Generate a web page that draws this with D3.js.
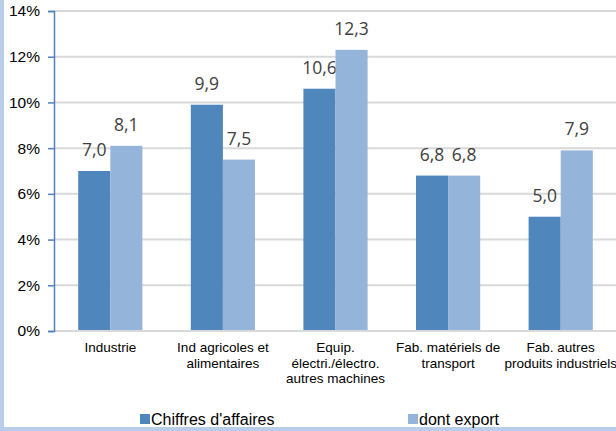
<!DOCTYPE html>
<meta charset="utf-8">
<style>
body { margin: 0; background: #fff; }
svg { display: block; font-family: "Liberation Sans", Arial, sans-serif; }
</style>
<body>
<script src="https://cdn.jsdelivr.net/npm/d3@7"></script>
<script>

// data
var categories = [
  ["Industrie"],
  ["Ind agricoles et", "alimentaires"],
  ["Equip.", "électri./électro.", "autres machines"],
  ["Fab. matériels de", "transport"],
  ["Fab. autres", "produits industriels"]
];
var chiffres = [7.0, 9.9, 10.6, 6.8, 5.0];
var exportVals = [8.1, 7.5, 12.3, 6.8, 7.9];
var seriesNames = ["Chiffres d'affaires", "dont export"];
var yTicks = [0, 2, 4, 6, 8, 10, 12, 14];

var W = 616, H = 431;
var colors = ["#4f86bb", "#95b4da"];

var svg = d3.select("body").append("svg")
    .attr("width", W)
    .attr("height", H);

// frame border (left + bottom)
svg.append("rect").attr("x", 0).attr("y", 0).attr("width", 4).attr("height", H).attr("fill", "#b9cce9");
svg.append("rect").attr("x", 0).attr("y", 427).attr("width", W).attr("height", 4).attr("fill", "#b9cce9");

var x0 = d3.scaleBand().domain(d3.range(categories.length)).range([54, 617]).paddingInner(0.43).paddingOuter(0.215);
var y = d3.scaleLinear().domain([0, 14]).range([331, 11]);

// gridlines
svg.append("g").selectAll("line")
  .data(yTicks.slice(1))
  .enter().append("line")
    .attr("x1", 54).attr("x2", W)
    .attr("y1", function(d) { return y(d); })
    .attr("y2", function(d) { return y(d); })
    .attr("stroke", "#d9d9d9")
    .attr("stroke-width", 2);

// bars
var bw = x0.bandwidth() / 2;
var series = [chiffres, exportVals];
series.forEach(function(vals, s) {
  svg.append("g").selectAll("rect")
    .data(vals)
    .enter().append("rect")
      .attr("x", function(d, i) { return x0(i) + s * bw; })
      .attr("width", bw)
      .attr("y", function(d) { return y(d); })
      .attr("height", function(d) { return y(0) - y(d); })
      .attr("fill", colors[s]);

  svg.append("g").selectAll("text")
    .data(vals)
    .enter().append("text")
      .attr("x", function(d, i) { return x0(i) + s * bw + bw / 2; })
      .attr("y", function(d) { return y(d) - 15; })
      .attr("text-anchor", "middle")
      .style("font-family", "'Open Sans', sans-serif")
      .style("font-size", "17.5px")
      .attr("fill", "#404040")
      .text(function(d) { return d.toFixed(1).replace(".", ","); });
});

// baseline
svg.append("line")
  .attr("x1", 54).attr("x2", W)
  .attr("y1", y(0)).attr("y2", y(0))
  .attr("stroke", "#d9d9d9").attr("stroke-width", 2);

// y axis
var yAxis = d3.axisLeft(y).tickValues(yTicks).tickSize(6).tickFormat(function(d) { return d + "%"; });
var gy = svg.append("g").attr("transform", "translate(54,0)").call(yAxis);
gy.select(".domain").attr("stroke", "#4f81bd").attr("stroke-width", 1.5);
gy.selectAll(".tick line").attr("stroke", "#4f81bd").attr("stroke-width", 1.5);
gy.selectAll(".tick text")
  .attr("x", -14)
  .style("font-size", "15.5px")
  .style("font-family", "'Liberation Sans', Arial, sans-serif")
  .attr("fill", "#000");

// category labels
var cat = svg.append("g").selectAll("g")
  .data(categories)
  .enter().append("text")
    .attr("text-anchor", "middle")
    .style("font-size", "13.5px")
    .attr("fill", "#000")
    .attr("transform", function(d, i) { return "translate(" + (x0(i) + x0.bandwidth() / 2) + ",0)"; });
cat.selectAll("tspan")
  .data(function(d) { return d; })
  .enter().append("tspan")
    .attr("x", 0)
    .attr("y", function(d, j) { return 352 + j * 15.5; })
    .text(function(d) { return d; });

// legend
var legendX = [140, 408];
var legend = svg.append("g").selectAll("g")
  .data(seriesNames)
  .enter().append("g")
    .attr("transform", function(d, i) { return "translate(" + legendX[i] + ",414)"; });
legend.append("rect")
  .attr("width", 10).attr("height", 10)
  .attr("fill", function(d, i) { return colors[i]; });
legend.append("text")
  .attr("x", 11).attr("y", 10.5)
  .style("font-size", "16px")
  .attr("fill", "#000")
  .text(function(d) { return d; });

</script>
</body>
